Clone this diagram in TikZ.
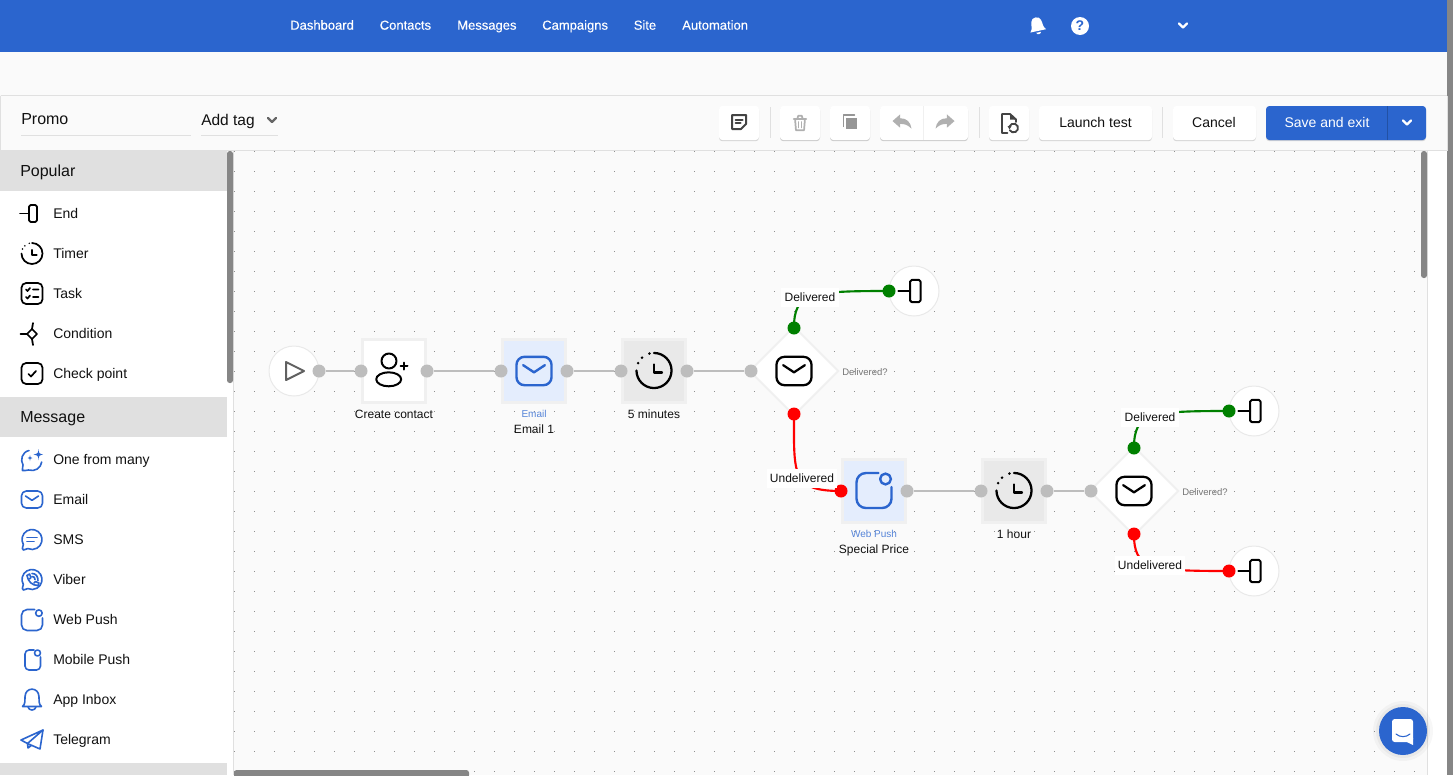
\documentclass[tikz,border=0pt]{standalone}
\usepackage{fontspec}
\setmainfont{Liberation Sans}
\newfontfamily\menufont[FakeBold=0.25]{Liberation Sans}
\usetikzlibrary{shapes.geometric,shadows}
\definecolor{brand}{HTML}{2B65CE}
\definecolor{pagebg}{HTML}{FAFAFA}
\definecolor{rulec}{HTML}{E0E0E0}
\definecolor{thumb}{HTML}{868686}
\definecolor{portc}{HTML}{BDBDBD}
\definecolor{ink}{HTML}{111111}
\definecolor{okc}{HTML}{008000}
\definecolor{badc}{HTML}{FF0000}
\definecolor{mailbg}{HTML}{E4EDFD}
\definecolor{timebg}{HTML}{E9E9E9}
\definecolor{frame}{HTML}{F0F0F0}
\definecolor{dim}{HTML}{B0B0B0}
\definecolor{dark}{HTML}{444444}
\definecolor{gridc}{HTML}{8E8E8E}
\newcommand{\tsize}[1]{\fontsize{\dimexpr #1pt*3/4\relax}{\dimexpr #1pt*9/10\relax}\selectfont}
% icon: name, x, y, scale, colour, line width in pt
\newcommand{\putico}[6]{\begin{scope}[shift={(#2,#3)},scale=#4,color=#5,line width=#6pt,line cap=round,line join=round]\def\rcs{#4}\csname ico#1\endcsname\end{scope}}
\newcommand{\icoEnd}{\draw (-12,0)--(-3,0); \draw[rounded corners=1.2] (-3,-8.5) rectangle (5,8.5);}
\newcommand{\icoClock}{\draw (0,-10.5) arc[start angle=-90,end angle=180,radius=10.5];
  \fill (205:10.5) circle (.85); \fill (227:10.5) circle (.85); \fill (255:10.5) circle (.85);
  \draw (0,-3.6)--(0,1.2)--(4.8,1.2);}
\newcommand{\icoMail}{\draw[rounded corners=\rcs*3.6pt] (-10.5,-8.5) rectangle (10.5,8.5); \draw (-6.5,-3.5)--(0,.8)--(6.5,-3.5);}
\newcommand{\icoPerson}{\draw (-5,-10) circle (7.5); \draw (-5.3,8.3) ellipse [x radius=12.5,y radius=7]; \draw (10,-8.5)--(10,-1.5) (6.5,-5)--(13.5,-5);}
\newcommand{\icoWebpush}{\draw[rounded corners=\rcs*7pt] (4.5,-17.5)--(-17.5,-17.5)--(-17.5,17.5)--(17.5,17.5)--(17.5,-3.5); \draw (11.5,-11.5) circle (5.4);}
\newcommand{\icoMobile}{\draw[rounded corners=3pt] (1.5,-10)--(-7.5,-10)--(-7.5,10)--(8,10)--(8,-3); \draw (5,-7) circle (3);}
\newcommand{\icoTask}{\draw[rounded corners=3.5pt] (-10.5,-10.5) rectangle (10.5,10.5);
  \draw (-6,-4)--(-4.5,-2.5)--(-2,-5.5) (-6,3.5)--(-4.5,5)--(-2,2) (1,-4)--(6.5,-4) (1,3.5)--(6.5,3.5);}
\newcommand{\icoCond}{\draw (0,-5)--(5,0)--(0,5)--(-5,0)--cycle; \draw (-11.5,0)--(-5,0) (0,-5)--(1,-11) (0,5)--(1,11);}
\newcommand{\icoCheck}{\draw[rounded corners=3.5pt] (-10.5,-10.5) rectangle (10.5,10.5); \draw (-3.5,.5)--(-1,3)--(4,-2.5);}
\newcommand{\icoSms}{\draw (150:10) arc[start angle=150,end angle=475,radius=10] -- (-8.5,10.5) .. controls (-10.5,10.5) and (-9.5,8.5) .. (150:10);
  \draw (-5,-2)--(5,-2) (-5,2)--(2,2);}
\newcommand{\icoViber}{\draw (150:10) arc[start angle=150,end angle=475,radius=10] -- (-8.5,10.5) .. controls (-10.5,10.5) and (-9.5,8.5) .. (150:10);
  \draw (-5,-4) .. controls (-4,2) and (0,6) .. (6,6); \draw (-5,-4)--(-2.5,-5.5)--(-1,-2)--(-2.5,-.5) (6,6)--(7,3.5)--(3.5,2)--(2,3.5);
  \draw (0,-6) .. controls (4,-6) and (6,-3) .. (6,1) (0,-3) .. controls (2,-3) and (3,-2) .. (3,0);}
\newcommand{\icoSpark}{\draw (-3,-9.5) .. controls (-10,-8) and (-12,0) .. (-9,5) .. controls (-9,7) and (-10,9) .. (-9.5,10.5) .. controls (-7,11) and (-5,10) .. (-3.5,10) .. controls (3,12) and (9,8) .. (9.7,2);
  \fill (6.5,-11) .. controls (7,-6.5) .. (11,-5.5) .. controls (7,-4.5) .. (6.5,0) .. controls (6,-4.5) .. (1.5,-5.5) .. controls (6,-6.5) .. (6.5,-11) -- cycle;
  \fill (-2,-5) .. controls (-1.7,-2.5) .. (.5,-2) .. controls (-1.7,-1.5) .. (-2,1) .. controls (-2.3,-1.5) .. (-4.5,-2) .. controls (-2.3,-2.5) .. (-2,-5) -- cycle;}
\newcommand{\icoBell}{\draw (-9.5,6.5) .. controls (-6.5,4) and (-7,0) .. (-7,-3) .. controls (-7,-13.5) and (7,-13.5) .. (7,-3) .. controls (7,0) and (6.5,4) .. (9.5,6.5) -- cycle; \draw (-4,7) .. controls (-3,11) and (3,11) .. (4,7);}
\newcommand{\icoPlane}{\draw (11,-9.5)--(-11,.5)--(-4.5,4)--cycle; \draw (11,-9.5)--(8,9.5)--(-4.5,4)--(-4,8.5)--(-1,6.2);}
\newcommand{\icoNote}{\draw (-7,-7)--(7,-7)--(7,2)--(2,7)--(-7,7)--cycle; \draw (-3.5,-2.5)--(3.5,-2.5) (-3.5,1)--(1.5,1);}
\newcommand{\icoTrash}{\draw (-7,-4.5)--(7,-4.5) (-3,-4.5)--(-2,-8)--(2,-8)--(3,-4.5); \draw (-5.5,-4.5)--(-4.5,8)--(4.5,8)--(5.5,-4.5); \draw (-1.7,-1)--(-1.7,5) (1.7,-1)--(1.7,5);}
\newcommand{\icoCopy}{\fill (-4,-4) rectangle (8,8); \draw (-7,5)--(-7,-8)--(5,-8);}
\newcommand{\icoUndo}{\fill (-10,-1)--(-2,-8)--(-2,-4) .. controls (5,-4) and (9,0) .. (10,7) .. controls (6,3) and (3,2) .. (-2,2)--(-2,6)--cycle;}
\newcommand{\icoRedo}{\begin{scope}[xscale=-1]\icoUndo\end{scope}}
\newcommand{\icoDoc}{\draw (-1.5,9.5)--(-7,9.5)--(-7,-9.5)--(1,-9.5)--(7,-4)--(7,-1.5); \fill (1,-9.5)--(7,-4)--(1,-4)--cycle; \draw (.5,3) arc[start angle=200,end angle=510,radius=4.4]; \fill (-1.5,2.5)--(2.5,2.5)--(.5,6)--cycle;}
\newcommand{\icoBellf}{\begin{scope}[rotate=12]\fill (-8,6) .. controls (-5,3) and (-6,-1) .. (-5,-4) .. controls (-4,-9) and (4,-9) .. (5,-4) .. controls (6,-1) and (5,3) .. (8,6) -- cycle; \fill (-2.5,7.5) .. controls (-2,10) and (2,10) .. (2.5,7.5) -- cycle;\end{scope}}
\newcommand{\icoChev}{\draw (-4,-2)--(0,2)--(4,-2);}
\tikzset{
  x=0.75pt,y=-0.75pt,
  port/.style={circle,fill=portc,inner sep=0pt,minimum size=9.75pt},
  okport/.style={port,fill=okc},
  badport/.style={port,fill=badc},
  conn/.style={draw=portc,line width=1.9pt},
  okline/.style={draw=okc,line width=1.6pt},
  badline/.style={draw=badc,line width=1.6pt},
  stepbox/.style={rectangle,draw=frame,line width=2.25pt,inner sep=0pt,minimum size=47.25pt,fill=white},
  roundnode/.style={circle,draw=rulec!70!white,line width=.75pt,fill=white,inner sep=0pt,minimum size=37.5pt},
  gate/.style={diamond,aspect=1,draw=frame,line width=1.5pt,fill=white,inner sep=0pt,minimum size=67pt},
  lab/.style={inner sep=0pt,text=ink,font=\tsize{12},text height=6.45pt,text depth=0pt},
  sublab/.style={inner sep=0pt,text=brand!80!white,font=\tsize{10},text height=5.4pt,text depth=0pt},
  qlab/.style={inner sep=0pt,text=black!55,font=\tsize{9.5},text height=5.1pt,text depth=0pt},
  boxlab/.style={lab,fill=white,minimum height=14.25pt},
  menu/.style={inner sep=0pt,anchor=west,text=white,font=\menufont\tsize{13},text height=7pt,text depth=0pt},
  item/.style={inner sep=0pt,anchor=west,text=ink,font=\tsize{14},text height=7.5pt,text depth=0pt},
  head/.style={inner sep=0pt,anchor=west,text=ink,font=\tsize{16},text height=8.6pt,text depth=0pt},
  btnlab/.style={inner sep=0pt,font=\tsize{14},text height=7.5pt,text depth=0pt},
  btn/.style={rectangle,rounded corners=2.5pt,fill=white,inner sep=0pt,minimum height=25.5pt,text=ink,drop shadow={shadow xshift=0pt,shadow yshift=-.9pt,opacity=.3}},
  softbtn/.style={btn,fill=white,drop shadow={shadow xshift=0pt,shadow yshift=-.7pt,opacity=.12}},
}
\begin{document}
\begin{tikzpicture}
\useasboundingbox (0,0) rectangle (1453,775);
% page
\fill[pagebg] (0,0) rectangle (1453,775);
\fill[white] (1428,151) rectangle (1447,775);
\foreach \i in {0,...,59}{\foreach \j in {0,...,31}{\fill[gridc] ({234+20*\i},{151+20*\j}) rectangle +(1,1);}}
\fill[brand] (0,0) rectangle (1447,52);
\fill[thumb] (1447,0) rectangle (1453,775);
% toolbar frame
\fill[pagebg] (0,95) rectangle (1447,151);
\draw[rulec,line width=.75pt] (.5,95.5)--(1447,95.5) (0,150.5)--(1447,150.5) (.5,95.5)--(.5,150.5) (1427.5,151)--(1427.5,775);
\draw[rulec,line width=.75pt] (1447,95.5)--(1447,150.5);
% sidebar
\fill[white] (0,151) rectangle (233,775);
\fill[rulec] (0,151) rectangle (227,191);
\fill[rulec] (0,397) rectangle (227,437);
\fill[rulec] (0,763) rectangle (227,775);
\draw[rulec,line width=.9pt] (233.5,151)--(233.5,775);
\fill[thumb,rounded corners=2pt] (227,151) rectangle (233,383);
\fill[thumb,rounded corners=2pt] (234,770) rectangle (469,778);
\fill[thumb,rounded corners=2pt] (1421,151) rectangle (1427,278);
% top menu
\node[menu] (mDash) at (290,25) {Dashboard};
\node[menu] (mCont) at (379.5,25) {Contacts};
\node[menu] (mMsg) at (457,25) {Messages};
\node[menu] (mCamp) at (542,25) {Campaigns};
\node[menu] (mSite) at (633.5,25) {Site};
\node[menu] (mAuto) at (682,25) {Automation};
\putico{Bellf}{1037}{25}{1}{white}{1.1}
\fill[white] (1080,26) circle (9);
\node[inner sep=0pt,text=brand,font=\tsize{14}\bfseries] (qmark) at (1080,26) {?};
\putico{Chev}{1183}{25.5}{1}{white}{1.7}
% name and tag
\node[head] (promo) at (21,119) {Promo};
\draw[rulec,line width=.75pt] (21,135.5)--(191,135.5);
\node[head,font=\tsize{15.5}] (addtag) at (201,120) {Add tag};
\draw[rulec,line width=.75pt] (201,135.5)--(278,135.5);
\putico{Chev}{272}{120}{1}{black!60}{1.7}
% toolbar buttons
\node[btn,minimum width=30pt] (bNote) at (739,123) {};
\putico{Note}{739}{122}{1}{dark}{1.5}
\draw[rulec,line width=.75pt] (770,107)--(770,138) (979,107)--(979,138) (1162,107)--(1162,138);
\node[softbtn,minimum width=30pt] (bTrash) at (800,123) {};
\putico{Trash}{800}{123}{.9}{dim}{1.3}
\node[softbtn,minimum width=30pt] (bCopy) at (850,123) {};
\putico{Copy}{850}{122}{.9}{dim!85!black}{1.1}
\node[softbtn,minimum width=66pt] (bBack) at (924,123) {};
\draw[frame,line width=.75pt] (923.5,106)--(923.5,140);
\putico{Undo}{902}{122}{.95}{dim}{1}
\putico{Redo}{945}{122}{.95}{dim}{1}
\node[btn,minimum width=30pt] (bDoc) at (1009,123) {};
\putico{Doc}{1009}{123.5}{1}{dark}{1.4}
\node[btn,minimum width=84.75pt] (bTest) at (1095.5,123) {};
\node[btnlab,text=ink] (tTest) at (1095.5,122) {Launch test};
\node[btn,minimum width=62.25pt] (bCancel) at (1214.5,123) {};
\node[btnlab,text=ink] (tCancel) at (1214,122) {Cancel};
\node[btn,fill=brand,minimum width=120pt] (bSave) at (1346,123) {};
\node[btnlab,text=white] (tSave) at (1327,122) {Save and exit};
\draw[black!20!brand,line width=.75pt] (1387.5,106)--(1387.5,140);
\putico{Chev}{1407}{122.5}{1}{white}{1.7}
% sidebar entries
\node[head] (hPop) at (20,171) {Popular};
\node[head] (hMsg) at (20,417) {Message};
\putico{End}{32}{213.5}{1}{black}{1.3}      \node[item] (iEnd) at (53,213) {End};
\putico{Clock}{32}{253.5}{1}{black}{1.3}    \node[item] (iTimer) at (53,253) {Timer};
\putico{Task}{32}{293.5}{1}{black}{1.3}     \node[item] (iTask) at (53,293) {Task};
\putico{Cond}{32}{334}{1}{black}{1.3}       \node[item] (iCond) at (53,333) {Condition};
\putico{Check}{32}{373.5}{1}{black}{1.3}    \node[item] (iCheck) at (53,373) {Check point};
\putico{Spark}{32}{460}{1}{brand}{1.2}      \node[item] (iOne) at (53,459) {One from many};
\putico{Mail}{32}{499.5}{1}{brand}{1.2}     \node[item] (iMail) at (53,499) {Email};
\putico{Sms}{32}{539.5}{1}{brand}{1.2}      \node[item] (iSms) at (53,539) {SMS};
\putico{Viber}{32}{579.5}{1}{brand}{1.2}    \node[item] (iViber) at (53,579) {Viber};
\putico{Webpush}{32}{620}{.6}{brand}{1.2}   \node[item] (iWeb) at (53,619) {Web Push};
\putico{Mobile}{32.5}{660}{1}{brand}{1.2}   \node[item] (iMob) at (53,659) {Mobile Push};
\putico{Bell}{32}{700}{1}{brand}{1.2}       \node[item] (iApp) at (53,699) {App Inbox};
\putico{Plane}{32}{739.5}{1}{brand}{1.2}    \node[item] (iTel) at (53,739) {Telegram};
% canvas nodes
\node[roundnode] (start) at (294,371) {};
\node[stepbox] (create) at (394,371) {};
\node[stepbox,fill=mailbg] (mail1) at (534,371) {};
\node[stepbox,fill=timebg] (wait1) at (654,371) {};
\node[gate] (gate1) at (794,371) {};
\node[roundnode] (end1) at (914,291) {};
\node[stepbox,fill=mailbg] (push1) at (874,491) {};
\node[stepbox,fill=timebg] (wait2) at (1014,491) {};
\node[gate] (gate2) at (1134,491) {};
\node[roundnode] (end2) at (1254,411) {};
\node[roundnode] (end3) at (1254,571) {};
% icons
\draw[black!62,line width=1.5pt,line join=round] (286,362)--(304,371)--(286,380)--cycle;
\putico{Person}{394}{371}{1}{black}{1.5}
\putico{Mail}{534}{371}{1.67}{brand}{1.8}
\putico{Clock}{654}{370.5}{1.67}{black}{1.7}
\putico{Mail}{794}{371}{1.67}{black}{1.7}
\putico{End}{914}{291}{1.3}{black}{1.5}
\putico{Webpush}{874}{490.5}{1}{brand}{1.8}
\putico{Clock}{1014}{490.5}{1.67}{black}{1.7}
\putico{Mail}{1134}{491}{1.67}{black}{1.7}
\putico{End}{1254}{411}{1.3}{black}{1.5}
\putico{End}{1254}{571}{1.3}{black}{1.5}
% ports
\node[port] (pa) at (319,371) {};
\node[port] (pb) at (361,371) {};
\node[port] (pc) at (427,371) {};
\node[port] (pd) at (501,371) {};
\node[port] (pe) at (567,371) {};
\node[port] (pf) at (621,371) {};
\node[port] (pg) at (687,371) {};
\node[port] (ph) at (751,371) {};
\node[port] (pi) at (907,491) {};
\node[port] (pj) at (981,491) {};
\node[port] (pk) at (1047,491) {};
\node[port] (pl) at (1091,491) {};
\node[okport] (ga) at (794,328) {};
\node[okport] (gb) at (889,291) {};
\node[badport] (ra) at (794,414) {};
\node[badport] (rb) at (841,491) {};
\node[okport] (gc) at (1134,448) {};
\node[okport] (gd) at (1229,411) {};
\node[badport] (rc) at (1134,534) {};
\node[badport] (rd) at (1229,571) {};
% connectors
\draw[conn] (pa)--(pb);
\draw[conn] (pc)--(pd);
\draw[conn] (pe)--(pf);
\draw[conn] (pg)--(ph);
\draw[conn] (pi)--(pj);
\draw[conn] (pk)--(pl);
\draw[okline] (ga.center) .. controls +(0,-35) and +(-80,0) .. (gb.center);
\draw[badline] (ra.center) .. controls +(0,60) and +(-50,0) .. (rb.center);
\draw[okline] (gc.center) .. controls +(0,-35) and +(-80,0) .. (gd.center);
\draw[badline] (rc.center) .. controls +(0,35) and +(-80,0) .. (rd.center);
% labels
\node[boxlab,minimum width=43.5pt] (l1) at (810,297) {Delivered};
\node[boxlab,minimum width=52.5pt] (l2) at (802,478) {Undelivered};
\node[boxlab,minimum width=43.5pt] (l3) at (1150,417) {Delivered};
\node[boxlab,minimum width=52.5pt] (l4) at (1150,565) {Undelivered};
\node[lab] (t1) at (394,414) {Create contact};
\node[sublab] (t2) at (534,414) {Email};
\node[lab] (t3) at (534,429) {Email 1};
\node[lab] (t4) at (654,414) {5 minutes};
\node[qlab,anchor=west] (t5) at (842,372) {Delivered?};
\node[sublab] (t6) at (874,534) {Web Push};
\node[lab] (t7) at (874,549) {Special Price};
\node[lab] (t8) at (1014,534) {1 hour};
\node[qlab,anchor=west] (t9) at (1182,492) {Delivered?};
% chat launcher
\fill[black,opacity=.03] (1403,731) circle (30);
\fill[black,opacity=.04] (1403,731) circle (27);
\fill[brand] (1403,731) circle (24);
\fill[white,rounded corners=2pt] (1392,719) rectangle (1413,742);
\fill[white] (1405,741)--(1413,745)--(1413,738)--cycle;
\draw[brand,line width=.8pt,line cap=round] (1396,734) .. controls (1400,737.5) and (1406,737.5) .. (1410,734);
\end{tikzpicture}
\end{document}
